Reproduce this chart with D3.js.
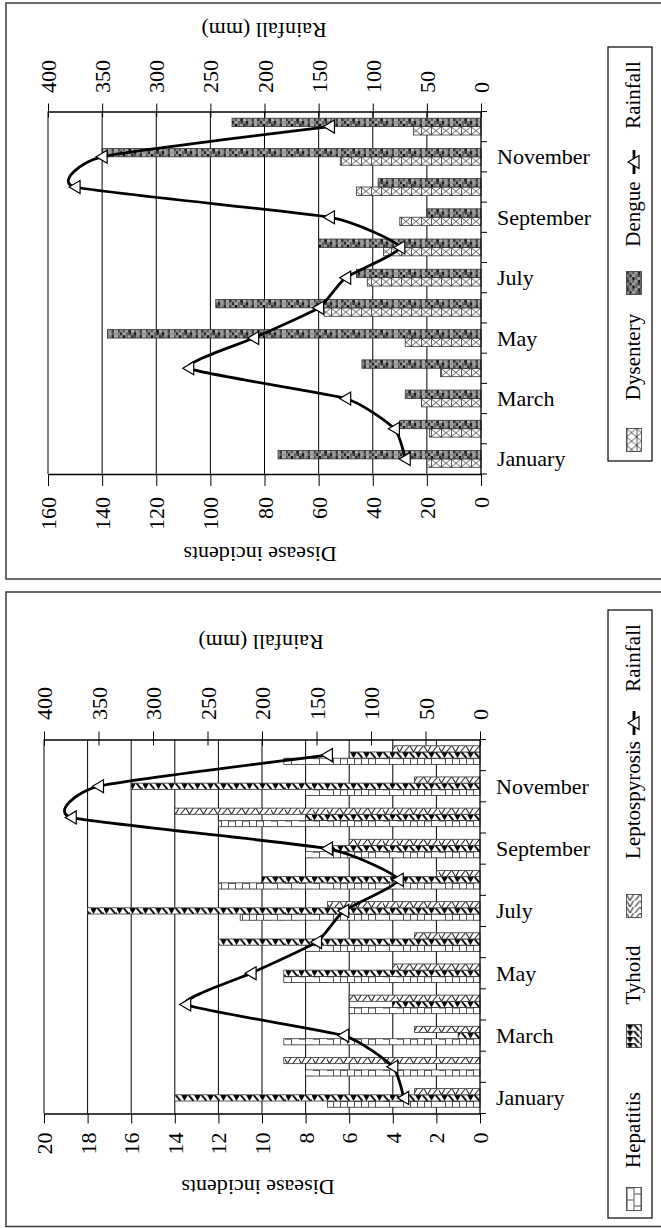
<!DOCTYPE html>
<html>
<head>
<meta charset="utf-8">
<script src="https://cdn.jsdelivr.net/npm/d3@7"></script>
<style>
  body { margin: 0; background: #fff; }
  svg { display: block; }
  text { font-family: "Liberation Serif", "Times New Roman", serif; fill: #000; }
</style>
</head>
<body>
<svg id="chart" width="661" height="1228"></svg>
<script>
// ---- data ----
const months = ["January", "February", "March", "April", "May", "June",
                "July", "August", "September", "October", "November", "December"];
const rainfall      = [70, 80, 125, 270, 210, 150, 125, 75, 140, 375, 350, 140];
const dysentery     = [20, 19, 22, 15, 28, 58, 42, 36, 30, 46, 52, 25];
const dengue        = [75, 30, 28, 44, 138, 98, 46, 60, 20, 38, 140, 92];
const hepatitis     = [7, 8, 9, 6, 9, 8, 11, 12, 8, 12, 8, 9];
const tyhoid        = [14, 0, 1, 4, 9, 12, 18, 10, 7, 8, 16, 6];
const leptospyrosis = [3, 9, 3, 6, 4, 3, 7, 2, 6, 14, 3, 4];
const diseaseTicksTop    = [0, 20, 40, 60, 80, 100, 120, 140, 160];
const diseaseTicksBottom = [0, 2, 4, 6, 8, 10, 12, 14, 16, 18, 20];
const rainfallTicks      = [0, 50, 100, 150, 200, 250, 300, 350, 400];
const labelledMonths     = ["January", "March", "May", "July", "September", "November"];

const FONT = 22;
const FAMILY = "Liberation Serif, Times New Roman, serif";
const svg = d3.select("#chart");
const defs = svg.append("defs");

// ---- fill patterns (screen orientation, tile height = bar thickness) ----
function makePatterns(prefix, h) {
  // Hepatitis: brick grid
  let p = defs.append("pattern").attr("id", prefix + "hep")
    .attr("patternUnits", "userSpaceOnUse").attr("width", 14).attr("height", 12);
  p.append("rect").attr("width", 14).attr("height", 12).attr("fill", "#fff");
  p.append("path").attr("d", "M0.5,0V12M7.5,0V12M0,0.5H7.5M7.5,6.5H14")
    .attr("stroke", "#555").attr("stroke-width", 1).attr("fill", "none");

  // Tyhoid: black wedges and slashes
  p = defs.append("pattern").attr("id", prefix + "tyh")
    .attr("patternUnits", "userSpaceOnUse").attr("width", 13).attr("height", h);
  p.append("rect").attr("width", 13).attr("height", h).attr("fill", "#fff");
  p.append("path").attr("d", `M0,0L7,0L3.5,${h}Z`).attr("fill", "#000");
  p.append("path").attr("d", `M7.5,0L12.5,${h}`).attr("stroke", "#000").attr("stroke-width", 1.8);

  // Leptospyrosis: V / Z line work
  p = defs.append("pattern").attr("id", prefix + "lep")
    .attr("patternUnits", "userSpaceOnUse").attr("width", 14).attr("height", h);
  p.append("rect").attr("width", 14).attr("height", h).attr("fill", "#fff");
  p.append("path").attr("d", `M0,0L3.5,${h}L7,0M8.5,${h}L13.5,0`)
    .attr("stroke", "#000").attr("stroke-width", 0.9).attr("fill", "none");

  // Dysentery: crossed boxes
  p = defs.append("pattern").attr("id", prefix + "dys")
    .attr("patternUnits", "userSpaceOnUse").attr("width", 10).attr("height", h);
  p.append("rect").attr("width", 10).attr("height", h).attr("fill", "#fff");
  p.append("path").attr("d", `M0,0L10,${h}M0,${h}L10,0M0.4,0V${h}`)
    .attr("stroke", "#222").attr("stroke-width", 0.8).attr("fill", "none");

  // Dengue: grey mosaic
  const mosaic = ["3a6c1e8b4d", "a2d7491c6b", "5b08c36a2d"];
  const cs = h / 3;
  p = defs.append("pattern").attr("id", prefix + "den")
    .attr("patternUnits", "userSpaceOnUse").attr("width", cs * 10).attr("height", h);
  mosaic.forEach((row, r) => {
    row.split("").forEach((c, k) => {
      const v = Math.round(parseInt(c, 16) * 12 + 15);
      p.append("rect").attr("x", k * cs).attr("y", r * cs)
        .attr("width", cs + 0.05).attr("height", cs + 0.05)
        .attr("fill", `rgb(${v},${v},${v})`);
    });
  });
}

function triangle(sel, cx, cy) {
  sel.append("path")
    .attr("d", `M${cx - 6},${cy}L${cx + 5},${cy - 6.5}L${cx + 5},${cy + 6.5}Z`)
    .attr("fill", "#fff").attr("stroke", "#000").attr("stroke-width", 1.2);
}

function label(sel, tx, ty, rot, anchor, size, str) {
  return sel.append("text")
    .attr("transform", `translate(${tx},${ty}) rotate(${rot})`)
    .attr("text-anchor", anchor).attr("dominant-baseline", "central")
    .attr("font-family", FAMILY).attr("font-size", size).text(str);
}

function drawPanel(cfg) {
  const g = svg.append("g");
  const p = cfg.plot;
  makePatterns(cfg.prefix, cfg.barW);

  g.append("rect").attr("x", cfg.frame.x).attr("y", cfg.frame.y)
    .attr("width", cfg.frame.w).attr("height", cfg.frame.h)
    .attr("fill", "#fff").attr("stroke", "#3a3a3a").attr("stroke-width", 1.5);

  const dMax = cfg.diseaseTicks[cfg.diseaseTicks.length - 1];
  const y = d3.scaleBand().domain(months).range([p.bottom, p.top]);
  const x = d3.scaleLinear().domain([0, dMax]).range([p.right, p.left]);
  const xr = d3.scaleLinear().domain([0, 400]).range([p.right, p.left]);
  const bw = y.bandwidth();

  // gridlines
  g.append("g").selectAll("line")
    .data(cfg.diseaseTicks.filter(d => d > 0)).join("line")
    .attr("x1", d => x(d)).attr("x2", d => x(d))
    .attr("y1", p.top).attr("y2", p.bottom)
    .attr("stroke", "#000").attr("stroke-width", 1);

  // bars
  const names = cfg.series.map(s => s.name);
  const groupW = names.length * cfg.barW;
  const inner = d3.scaleBand().domain(names).range([groupW, 0]);
  cfg.series.forEach(s => {
    const bars = g.append("g");
    months.forEach((m, i) => {
      const v = s.values[i];
      if (!(v > 0)) return;
      const top = y(m) + (bw - groupW) / 2 + inner(s.name);
      bars.append("g").attr("transform", `translate(${p.right},${top})`)
        .append("rect")
        .attr("x", x(v) - p.right).attr("y", 0)
        .attr("width", p.right - x(v)).attr("height", cfg.barW)
        .attr("fill", `url(#${cfg.prefix}${s.pat})`)
        .attr("stroke", "#333").attr("stroke-width", 0.8);
    });
  });

  // disease axis (bottom)
  const dAxis = g.append("g").attr("transform", `translate(0,${p.bottom})`)
    .call(d3.axisBottom(x).tickValues(cfg.diseaseTicks)
      .tickSizeInner(cfg.diseaseTickOut).tickSizeOuter(0).tickFormat(d3.format("d")));
  dAxis.select(".domain").attr("stroke", "#000").attr("stroke-width", 1.3);
  dAxis.selectAll(".tick line").attr("stroke", "#000").attr("stroke-width", 1);
  dAxis.selectAll(".tick text")
    .attr("y", null).attr("dy", null)
    .attr("transform", `translate(0,${cfg.diseaseLabelGap}) rotate(-90)`)
    .attr("text-anchor", "end").attr("dominant-baseline", "central")
    .attr("font-size", FONT).attr("font-family", FAMILY);

  // rainfall axis (top)
  const rAxis = g.append("g").attr("transform", `translate(0,${p.top})`)
    .call(d3.axisTop(xr).tickValues(rainfallTicks)
      .tickSizeInner(8).tickSizeOuter(0).tickFormat(d3.format("d")));
  rAxis.select(".domain").attr("stroke", "#000").attr("stroke-width", 1.3);
  rAxis.selectAll(".tick line").attr("y1", 6).attr("y2", -8)
    .attr("stroke", "#000").attr("stroke-width", 1);
  rAxis.selectAll(".tick text")
    .attr("y", null).attr("dy", null)
    .attr("transform", `translate(0,${-cfg.rainLabelGap}) rotate(-90)`)
    .attr("text-anchor", "start").attr("dominant-baseline", "central")
    .attr("font-size", FONT).attr("font-family", FAMILY);

  // category axis (right)
  const cat = g.append("g");
  cat.append("line").attr("x1", p.right).attr("x2", p.right)
    .attr("y1", p.top).attr("y2", p.bottom)
    .attr("stroke", "#000").attr("stroke-width", 1.3);
  const bounds = months.map(m => y(m)).concat([p.bottom]);
  cat.selectAll("line.tk").data(bounds).join("line").attr("class", "tk")
    .attr("x1", p.right).attr("x2", p.right + 6)
    .attr("y1", d => d).attr("y2", d => d)
    .attr("stroke", "#000").attr("stroke-width", 1);
  cat.selectAll("text").data(labelledMonths).join("text")
    .attr("x", p.right + 16).attr("y", d => y(d) + bw / 2)
    .attr("dominant-baseline", "central")
    .attr("font-family", FAMILY).attr("font-size", FONT)
    .text(d => d);

  // rainfall line
  const pts = months.map((m, i) => [xr(rainfall[i]), y(m) + bw / 2]);
  g.append("path").datum(pts)
    .attr("d", d3.line().curve(d3.curveCardinal.tension(0.5)))
    .attr("fill", "none").attr("stroke", "#000").attr("stroke-width", 2.8);
  const mk = g.append("g");
  pts.forEach(pt => triangle(mk, pt[0], pt[1]));

  // axis titles
  label(g, cfg.titleRain[0], cfg.titleRain[1], 180, "middle", FONT, "Rainfall (mm)");
  label(g, cfg.titleDisease[0], cfg.titleDisease[1], 180, "middle", FONT, "Disease incidents");

  // legend
  const L = cfg.legend;
  const lg = g.append("g");
  lg.append("rect").attr("x", L.box[0]).attr("y", L.box[1])
    .attr("width", L.box[2]).attr("height", L.box[3])
    .attr("fill", "#fff").attr("stroke", "#000").attr("stroke-width", 1.2);
  const lx = 634;
  cfg.series.forEach((s, i) => {
    const it = L.items[i];
    lg.append("g").attr("transform", `translate(${lx - 7.5},${it.sw - 11.5})`)
      .append("rect").attr("width", 15).attr("height", 23)
      .attr("fill", `url(#${cfg.prefix}${s.pat})`)
      .attr("stroke", "#333").attr("stroke-width", 0.8);
    label(lg, lx - 1, it.text, -90, "middle", L.font, s.name);
  });
  lg.append("line").attr("x1", lx).attr("x2", lx)
    .attr("y1", L.rain.mark - 12).attr("y2", L.rain.mark + 12)
    .attr("stroke", "#000").attr("stroke-width", 2.8);
  triangle(lg, lx, L.rain.mark);
  label(lg, lx - 1, L.rain.text, -90, "middle", L.font, "Rainfall");
}

// upper panel: dysentery and dengue
drawPanel({
  prefix: "a-",
  frame: { x: 6, y: 3, w: 660, h: 576 },
  plot: { left: 48, right: 481, top: 111.5, bottom: 474 },
  diseaseTicks: diseaseTicksTop,
  diseaseTickOut: 12, diseaseLabelGap: 23, rainLabelGap: 18.5,
  series: [
    { name: "Dysentery", values: dysentery, pat: "dys" },
    { name: "Dengue", values: dengue, pat: "den" }
  ],
  barW: 8.4,
  titleRain: [264, 30], titleDisease: [260, 554],
  legend: {
    box: [608, 47, 44, 414], font: 21,
    rain: { text: 95, mark: 162 },
    items: [{ text: 357, sw: 440 }, { text: 214, sw: 283 }]
  }
});

// lower panel: hepatitis, tyhoid and leptospyrosis
drawPanel({
  prefix: "b-",
  frame: { x: 6, y: 592, w: 660, h: 634.5 },
  plot: { left: 44, right: 480, top: 739.5, bottom: 1113.5 },
  diseaseTicks: diseaseTicksBottom,
  diseaseTickOut: 10, diseaseLabelGap: 19, rainLabelGap: 19.5,
  series: [
    { name: "Hepatitis", values: hepatitis, pat: "hep" },
    { name: "Tyhoid", values: tyhoid, pat: "tyh" },
    { name: "Leptospyrosis", values: leptospyrosis, pat: "lep" }
  ],
  barW: 6.2,
  titleRain: [261, 642], titleDisease: [258, 1187],
  legend: {
    box: [608, 610, 44, 608], font: 21,
    rain: { text: 658, mark: 723 },
    items: [{ text: 1130, sw: 1199 }, { text: 975, sw: 1036 }, { text: 800, sw: 906 }]
  }
});
</script>
</body>
</html>
